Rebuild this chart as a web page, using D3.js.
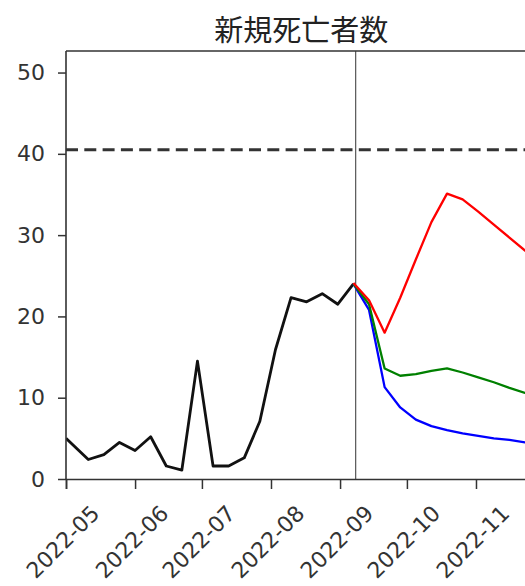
<!DOCTYPE html>
<html>
<head>
<meta charset="utf-8">
<script src="https://cdn.jsdelivr.net/npm/d3@7"></script>
<style>
  html, body { margin: 0; padding: 0; background: #fff; overflow: hidden; }
  svg { display: block; }
</style>
</head>
<body>
<script>
// ---- data ----
const chartTitle = "新規死亡者数";
const histDates = ["2022-05-01","2022-05-11","2022-05-18","2022-05-25","2022-06-01","2022-06-08","2022-06-15","2022-06-22","2022-06-29","2022-07-06","2022-07-13","2022-07-20","2022-07-27","2022-08-03","2022-08-10","2022-08-17","2022-08-24","2022-08-31","2022-09-07"];
const histValues = [5.0, 2.4, 3.0, 4.5, 3.5, 5.2, 1.6, 1.1, 14.5, 1.6, 1.6, 2.6, 7.1, 15.9, 22.3, 21.8, 22.8, 21.5, 24.0];
const fcDates = ["2022-09-07","2022-09-14","2022-09-21","2022-09-28","2022-10-05","2022-10-12","2022-10-19","2022-10-26","2022-11-02","2022-11-09","2022-11-16","2022-11-23","2022-11-30"];
const fcRed   = [24.1, 22.0, 18.0, 22.3, 27.0, 31.6, 35.1, 34.4, 32.9, 31.3, 29.7, 28.1, 26.6];
const fcGreen = [24.0, 21.5, 13.6, 12.7, 12.9, 13.3, 13.6, 13.1, 12.5, 11.9, 11.2, 10.6, 10.0];
const fcBlue  = [24.0, 20.8, 11.3, 8.8, 7.3, 6.5, 6.0, 5.6, 5.3, 5.0, 4.8, 4.5, 4.3];
const yTicks = [0, 10, 20, 30, 40, 50];
const xTickLabels = ["2022-05","2022-06","2022-07","2022-08","2022-09","2022-10","2022-11"];
const thresholdValue = 40.5;
const todayDate = "2022-09-08";
const xDomain = ["2022-05-01", "2022-11-30"];
const yMax = 52.65;

// ---- layout ----
const W = 525, H = 586;
const plot = { left: 66, right: 540.6, top: 51, bottom: 479 };
const parse = d3.utcParse("%Y-%m-%d");
const parseMonth = d3.utcParse("%Y-%m");

const svg = d3.select("body").append("svg")
  .attr("width", W).attr("height", H)
  .style("font-family", "'DejaVu Sans', sans-serif");

svg.append("rect").attr("width", W).attr("height", H).attr("fill", "#fff");

const x = d3.scaleUtc().domain(xDomain.map(parse)).range([plot.left, plot.right]);
const y = d3.scaleLinear().domain([0, yMax]).range([plot.bottom, plot.top]);

svg.append("defs").append("clipPath").attr("id", "clip")
  .append("rect")
  .attr("x", plot.left).attr("y", plot.top)
  .attr("width", plot.right - plot.left).attr("height", plot.bottom - plot.top);

const g = svg.append("g").attr("clip-path", "url(#clip)");

// threshold dashed line
g.append("line")
  .attr("x1", plot.left).attr("x2", plot.right)
  .attr("y1", y(thresholdValue)).attr("y2", y(thresholdValue))
  .attr("stroke", "#333").attr("stroke-width", 3.2)
  .attr("stroke-dasharray", "12,6.3");

// today vertical line
g.append("line")
  .attr("x1", x(parse(todayDate))).attr("x2", x(parse(todayDate)))
  .attr("y1", plot.top).attr("y2", plot.bottom)
  .attr("stroke", "#555").attr("stroke-width", 1.2);

const line = d3.line().x(d => x(d[0])).y(d => y(d[1]));

const hist = histDates.map((d, i) => [parse(d), histValues[i]]);
g.append("path").datum(hist).attr("d", line)
  .attr("fill", "none").attr("stroke", "#111").attr("stroke-width", 2.8)
  .attr("stroke-linejoin", "round");

const fcSeries = [
  { values: fcBlue, color: "#0000ff" },
  { values: fcGreen, color: "#008000" },
  { values: fcRed, color: "#ff0000" }
];
fcSeries.forEach(s => {
  const pts = fcDates.map((d, i) => [parse(d), s.values[i]]);
  g.append("path").datum(pts).attr("d", line)
    .attr("fill", "none").attr("stroke", s.color).attr("stroke-width", 2.3)
    .attr("stroke-linejoin", "round");
});

// spines
const spineColor = "#333";
svg.append("line").attr("x1", plot.left).attr("x2", plot.left)
  .attr("y1", plot.top).attr("y2", plot.bottom)
  .attr("stroke", spineColor).attr("stroke-width", 1.6);
svg.append("line").attr("x1", plot.left).attr("x2", plot.right)
  .attr("y1", plot.top).attr("y2", plot.top)
  .attr("stroke", spineColor).attr("stroke-width", 1.6);
svg.append("line").attr("x1", plot.right).attr("x2", plot.right)
  .attr("y1", plot.top).attr("y2", plot.bottom)
  .attr("stroke", spineColor).attr("stroke-width", 1.6);

// y axis
const yAxis = d3.axisLeft(y).tickValues(yTicks).tickSize(8).tickPadding(13)
  .tickFormat(d3.format("d"));
const yG = svg.append("g").attr("transform", `translate(${plot.left},0)`).call(yAxis);
yG.select(".domain").remove();
yG.selectAll(".tick line").attr("stroke", spineColor).attr("stroke-width", 1.5);
yG.selectAll(".tick text").attr("fill", "#333").style("font-size", "22px")
  .style("font-family", "'DejaVu Sans', sans-serif");

// x axis
const xTicks = xTickLabels.map(parseMonth);
const xAxis = d3.axisBottom(x).tickValues(xTicks).tickSize(10)
  .tickFormat(d3.utcFormat("%Y-%m"));
const xG = svg.append("g").attr("transform", `translate(0,${plot.bottom})`).call(xAxis);
xG.select(".domain").attr("stroke", spineColor).attr("stroke-width", 1.6);
xG.selectAll(".tick line").attr("stroke", spineColor).attr("stroke-width", 1.5);
xG.selectAll(".tick text")
  .attr("fill", "#333").style("font-size", "22px")
  .style("font-family", "'DejaVu Sans', sans-serif")
  .attr("text-anchor", "middle")
  .attr("dominant-baseline", "central")
  .attr("dy", null)
  .attr("y", null)
  .attr("transform", "translate(-3.5,63) rotate(-45)");

// title
svg.append("text")
  .attr("x", (plot.left + plot.right) / 2 - 2).attr("y", 28)
  .attr("text-anchor", "middle").attr("dominant-baseline", "central")
  .style("font-family", "'Noto Sans CJK JP', sans-serif")
  .style("font-size", "29px").attr("fill", "#222")
  .text(chartTitle);
</script>
</body>
</html>
